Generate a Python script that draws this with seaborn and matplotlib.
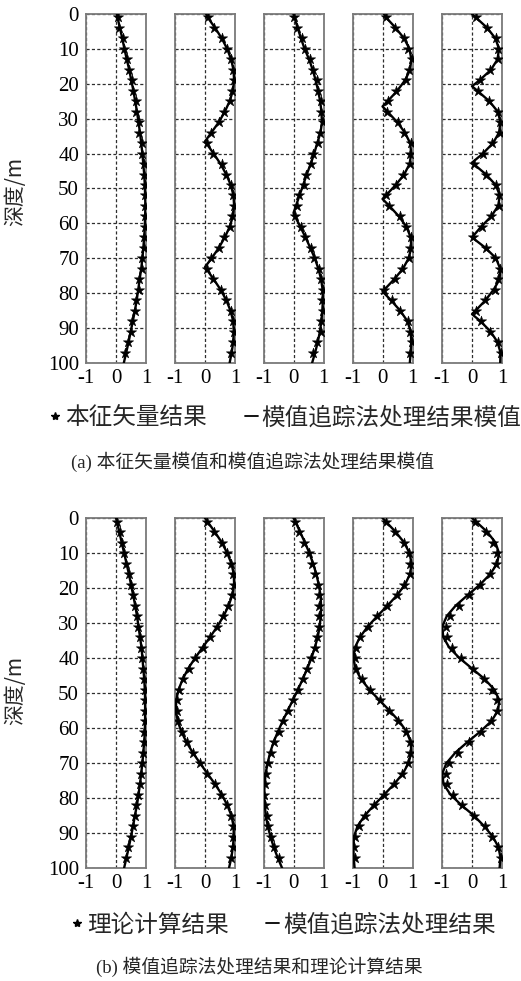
import matplotlib
matplotlib.use("Agg")
import matplotlib.pyplot as plt
from matplotlib.lines import Line2D
import seaborn as sns

# depth samples (m)
depth_line = [0, 1, 4, 7, 10, 13, 16, 19, 22, 25, 28, 31, 34, 37, 40, 43, 46, 49, 52, 55,
              58, 61, 64, 67, 70, 73, 76, 79, 82, 85, 88, 91, 94, 97, 100]
depth_star = [1, 4, 7, 10, 13, 16, 19, 22, 25, 28, 31, 34, 37, 40, 43, 46, 49, 52, 55,
              58, 61, 64, 67, 70, 73, 76, 79, 82, 85, 88, 91, 94, 97]

# ---- (a) modulus of eigenvectors (stars) and of mode-tracking results (lines)
a1_line = [0.03, 0.05, 0.13, 0.21, 0.28, 0.36, 0.44, 0.51, 0.58, 0.64, 0.70, 0.75, 0.80, 0.84,
           0.88, 0.91, 0.94, 0.96, 0.97, 0.98, 0.97, 0.96, 0.94, 0.91, 0.88, 0.84, 0.79, 0.74,
           0.69, 0.63, 0.56, 0.49, 0.42, 0.34, 0.26]
a1_star = [0.05, 0.10, 0.22, 0.26, 0.38, 0.42, 0.53, 0.56, 0.66, 0.68, 0.77, 0.78, 0.86, 0.85,
           0.93, 0.92, 0.97, 0.95, 0.98, 0.95, 0.97, 0.92, 0.93, 0.86, 0.85, 0.77, 0.75, 0.66,
           0.64, 0.54, 0.51, 0.40, 0.30]

a2_depth = [0, 1, 4, 7, 10, 13, 16, 19, 22, 25, 28, 31, 34, 36.5, 37, 40, 43, 46, 49, 52,
            55, 58, 61, 64, 67, 70, 72.5, 73, 76, 79, 82, 85, 88, 91, 94, 97, 100]
a2_line = [0.04, 0.09, 0.34, 0.56, 0.74, 0.87, 0.95, 0.97, 0.93, 0.82, 0.66, 0.46, 0.21, 0.0,
           0.04, 0.29, 0.52, 0.71, 0.86, 0.95, 0.97, 0.93, 0.82, 0.66, 0.46, 0.22, 0.0, 0.04,
           0.29, 0.52, 0.71, 0.85, 0.94, 0.96, 0.94, 0.89, 0.82]
a2_star = [0.10, 0.30, 0.58, 0.72, 0.88, 0.93, 0.98, 0.91, 0.84, 0.63, 0.48, 0.20, 0.06, 0.27,
           0.55, 0.69, 0.88, 0.93, 0.98, 0.91, 0.84, 0.64, 0.48, 0.20, 0.07, 0.27, 0.54, 0.70,
           0.87, 0.92, 0.97, 0.93, 0.87]

a3_depth = [0, 1, 4, 7, 10, 13, 16, 19, 22, 25, 28, 31, 34, 37, 40, 43, 46, 49, 52, 55,
            57, 58, 61, 64, 67, 70, 73, 76, 79, 82, 85, 88, 91, 94, 97, 100]
a3_line = [0.0, 0.03, 0.14, 0.25, 0.37, 0.52, 0.64, 0.74, 0.82, 0.89, 0.93, 0.95, 0.90, 0.79,
           0.69, 0.57, 0.44, 0.32, 0.20, 0.08, 0.0, 0.05, 0.23, 0.40, 0.56, 0.71, 0.83, 0.92,
           0.97, 0.98, 0.96, 0.93, 0.88, 0.81, 0.72, 0.62]
a3_star = [0.0, 0.12, 0.28, 0.38, 0.55, 0.66, 0.78, 0.80, 0.92, 0.90, 0.97, 0.88, 0.80, 0.66,
           0.58, 0.42, 0.34, 0.18, 0.10, 0.06, 0.25, 0.38, 0.58, 0.69, 0.85, 0.90, 0.99, 0.96,
           0.98, 0.91, 0.90, 0.79, 0.66]

a4_depth = [0, 1, 4, 7, 10, 13, 16, 19, 22, 25, 26.5, 28, 31, 34, 37, 40, 43, 46, 49, 52,
            53, 55, 58, 61, 64, 67, 70, 73, 76, 79, 79.5, 82, 85, 88, 91, 94, 97, 100]
a4_line = [0.05, 0.12, 0.44, 0.72, 0.90, 0.96, 0.92, 0.75, 0.49, 0.17, 0.0, 0.17, 0.49, 0.75,
           0.92, 0.96, 0.90, 0.72, 0.44, 0.11, 0.0, 0.23, 0.55, 0.80, 0.94, 0.96, 0.87, 0.68,
           0.39, 0.06, 0.0, 0.28, 0.59, 0.83, 0.94, 0.96, 0.94, 0.91]
a4_star = [0.12, 0.40, 0.73, 0.86, 0.97, 0.88, 0.77, 0.45, 0.18, 0.15, 0.51, 0.72, 0.94, 0.92,
           0.91, 0.69, 0.46, 0.12, 0.21, 0.57, 0.78, 0.95, 0.92, 0.89, 0.66, 0.41, 0.05, 0.30,
           0.57, 0.85, 0.92, 0.97, 0.92]

a5_depth = [0, 1, 4, 7, 10, 13, 16, 19, 20.7, 22, 25, 28, 31, 34, 37, 40, 42.6, 43, 46, 49,
            52, 55, 58, 61, 64, 67, 70, 73, 76, 79, 82, 85, 86, 88, 91, 94, 97, 100]
a5_line = [0.0, 0.13, 0.51, 0.78, 0.90, 0.85, 0.63, 0.25, 0.0, 0.18, 0.58, 0.86, 0.95, 0.90,
           0.70, 0.36, 0.0, 0.06, 0.47, 0.79, 0.93, 0.87, 0.64, 0.30, 0.0, 0.45, 0.80, 0.94,
           0.92, 0.72, 0.45, 0.12, 0.0, 0.28, 0.62, 0.85, 0.95, 0.94]
a5_star = [0.12, 0.50, 0.80, 0.88, 0.87, 0.60, 0.27, 0.20, 0.56, 0.88, 0.92, 0.93, 0.68, 0.38,
           0.08, 0.45, 0.81, 0.90, 0.89, 0.62, 0.32, 0.03, 0.47, 0.78, 0.92, 0.88, 0.75, 0.43,
           0.14, 0.30, 0.60, 0.87, 0.97]

# ---- (b) mode-tracking results (lines) and theoretical results (stars)
b1_line = [0.0, 0.03, 0.11, 0.19, 0.27, 0.35, 0.43, 0.50, 0.57, 0.64, 0.70, 0.75, 0.80, 0.85,
           0.88, 0.91, 0.94, 0.96, 0.97, 0.97, 0.97, 0.96, 0.94, 0.91, 0.88, 0.84, 0.80, 0.75,
           0.70, 0.63, 0.57, 0.50, 0.43, 0.35, 0.27]
b1_star = [0.03, 0.12, 0.19, 0.28, 0.34, 0.43, 0.49, 0.57, 0.62, 0.70, 0.74, 0.80, 0.84, 0.87,
           0.91, 0.93, 0.95, 0.95, 0.96, 0.95, 0.93, 0.93, 0.90, 0.86, 0.82, 0.79, 0.73, 0.68,
           0.62, 0.55, 0.49, 0.41, 0.33]

b2_line = [0.0, 0.08, 0.33, 0.56, 0.74, 0.88, 0.96, 0.97, 0.91, 0.79, 0.62, 0.41, 0.17, -0.08,
           -0.33, -0.56, -0.74, -0.88, -0.96, -0.97, -0.91, -0.79, -0.62, -0.41, -0.17, 0.08,
           0.33, 0.56, 0.74, 0.88, 0.95, 0.96, 0.93, 0.88, 0.80]
b2_star = [0.08, 0.31, 0.55, 0.73, 0.86, 0.94, 0.95, 0.90, 0.78, 0.60, 0.40, 0.16, -0.08, -0.32,
           -0.54, -0.72, -0.86, -0.94, -0.95, -0.90, -0.78, -0.61, -0.40, -0.17, 0.08, 0.32,
           0.54, 0.72, 0.86, 0.93, 0.94, 0.92, 0.88]

b3_line = [0.0, 0.06, 0.22, 0.38, 0.53, 0.65, 0.76, 0.84, 0.90, 0.92, 0.91, 0.87, 0.81, 0.71,
           0.60, 0.46, 0.31, 0.15, -0.02, -0.19, -0.36, -0.52, -0.66, -0.78, -0.86, -0.93,
           -0.96, -0.98, -0.96, -0.92, -0.86, -0.77, -0.66, -0.53, -0.38]
b3_star = [0.05, 0.18, 0.36, 0.50, 0.63, 0.72, 0.80, 0.85, 0.86, 0.86, 0.84, 0.78, 0.70, 0.58,
           0.45, 0.30, 0.14, -0.02, -0.18, -0.34, -0.50, -0.64, -0.76, -0.86, -0.92, -0.95,
           -0.97, -0.95, -0.90, -0.84, -0.76, -0.64, -0.50]

b4_line = [0.0, 0.11, 0.44, 0.72, 0.90, 0.97, 0.92, 0.75, 0.49, 0.17, -0.17, -0.49, -0.75,
           -0.92, -0.97, -0.90, -0.72, -0.44, -0.11, 0.23, 0.55, 0.80, 0.94, 0.96, 0.87, 0.68,
           0.39, 0.06, -0.28, -0.59, -0.83, -0.95, -0.97, -0.96, -0.93]
b4_star = [0.10, 0.42, 0.70, 0.88, 0.93, 0.90, 0.72, 0.47, 0.15, -0.18, -0.47, -0.74, -0.90,
           -0.93, -0.88, -0.70, -0.43, -0.10, 0.22, 0.53, 0.77, 0.91, 0.93, 0.85, 0.66, 0.38,
           0.05, -0.27, -0.57, -0.80, -0.92, -0.94, -0.93]

b5_line = [0.0, 0.13, 0.51, 0.78, 0.90, 0.84, 0.61, 0.27, -0.14, -0.54, -0.84, -0.99, -0.96,
           -0.76, -0.42, 0.0, 0.42, 0.74, 0.91, 0.87, 0.65, 0.28, -0.15, -0.55, -0.85, -0.99,
           -0.95, -0.72, -0.36, 0.06, 0.40, 0.69, 0.88, 0.95, 0.92]
b5_star = [0.10, 0.45, 0.70, 0.82, 0.80, 0.60, 0.28, -0.10, -0.45, -0.72, -0.86, -0.84, -0.68,
           -0.38, 0.02, 0.40, 0.68, 0.83, 0.82, 0.62, 0.30, -0.10, -0.48, -0.76, -0.86, -0.84,
           -0.64, -0.32, 0.08, 0.42, 0.68, 0.86, 0.95]

x_ticks = [-1, 0, 1]
x_ticklabels = ["-1", "0", "1"]
y_ticks = [0, 10, 20, 30, 40, 50, 60, 70, 80, 90, 100]

legend_a = ["本征矢量结果", "模值追踪法处理结果模值"]
legend_b = ["理论计算结果", "模值追踪法处理结果"]
caption_a = "(a) 本征矢量模值和模值追踪法处理结果模值"
caption_b = "(b) 模值追踪法处理结果和理论计算结果"
ylabel = "深度/m"

rows = [
    [(depth_line, a1_line, a1_star), (a2_depth, a2_line, a2_star), (a3_depth, a3_line, a3_star),
     (a4_depth, a4_line, a4_star), (a5_depth, a5_line, a5_star)],
    [(depth_line, b1_line, b1_star), (depth_line, b2_line, b2_star), (depth_line, b3_line, b3_star),
     (depth_line, b4_line, b4_star), (depth_line, b5_line, b5_star)],
]

sns.set_style("white")
plt.rcParams["font.family"] = ["Liberation Serif", "Noto Sans CJK SC", "DejaVu Sans"]
plt.rcParams["axes.unicode_minus"] = False

W, H = 521, 981
fig = plt.figure(figsize=(W / 100, H / 100), dpi=100)

panel_left = [86, 175, 263.5, 352.5, 442]
panel_w = 60
row_top = [14, 518]
row_h = [349, 350]

CJK = ["Noto Sans CJK SC", "DejaVu Sans"]

for r, row in enumerate(rows):
    for c, (zl, vl, vs) in enumerate(row):
        left = panel_left[c]
        top = row_top[r]
        ax = fig.add_axes([left / W, 1 - (top + row_h[r]) / H, panel_w / W, row_h[r] / H])
        sns.lineplot(x=vl, y=zl, sort=False, estimator=None, color="black",
                     linewidth=1.7, ax=ax, zorder=3)
        sns.scatterplot(x=vs, y=depth_star, marker="*", s=60, color="black",
                        edgecolor="black", linewidth=0.4, ax=ax, zorder=4)
        ax.set_xlim(-1, 1)
        ax.set_ylim(100, 0)
        ax.set_xticks(x_ticks)
        ax.set_xticklabels(x_ticklabels)
        ax.set_yticks(y_ticks)
        ax.grid(True, linestyle=(0, (2.5, 1.8)), color="#2e2e2e", linewidth=0.9)
        ax.set_axisbelow(True)
        ax.tick_params(axis="both", length=0, labelsize=15, colors="black")
        ax.tick_params(axis="x", pad=4)
        ax.tick_params(axis="y", pad=5)
        if c > 0:
            ax.set_yticklabels([])
        ax.set_xlabel("")
        ax.set_ylabel("")
        for sp in ax.spines.values():
            sp.set_color("#7a7a7a")
            sp.set_linewidth(1.3)

    yc = [191, 690][r]
    fig.text(15 / W, 1 - yc / H, ylabel, rotation=90, ha="center", va="center",
             fontsize=15, family=CJK)

    labels = [legend_a, legend_b][r]
    handles = [
        Line2D([], [], marker="*", linestyle="none", color="black", markersize=6),
        Line2D([], [], color="black", linewidth=1.3),
    ]
    ly = [418, 925][r]
    lx = [285, 283][r]
    fig.legend(handles, labels, loc="center", bbox_to_anchor=(lx / W, 1 - ly / H),
               ncol=2, frameon=False, handlelength=0.55, handletextpad=0.15,
               columnspacing=1.6, prop={"family": CJK, "size": 17})

    cap = [caption_a, caption_b][r]
    cy = [462, 967][r]
    cx = [253, 259][r]
    fig.text(cx / W, 1 - cy / H, cap, ha="center", va="center", fontsize=13.5)

fig.savefig("out.png", dpi=100)
